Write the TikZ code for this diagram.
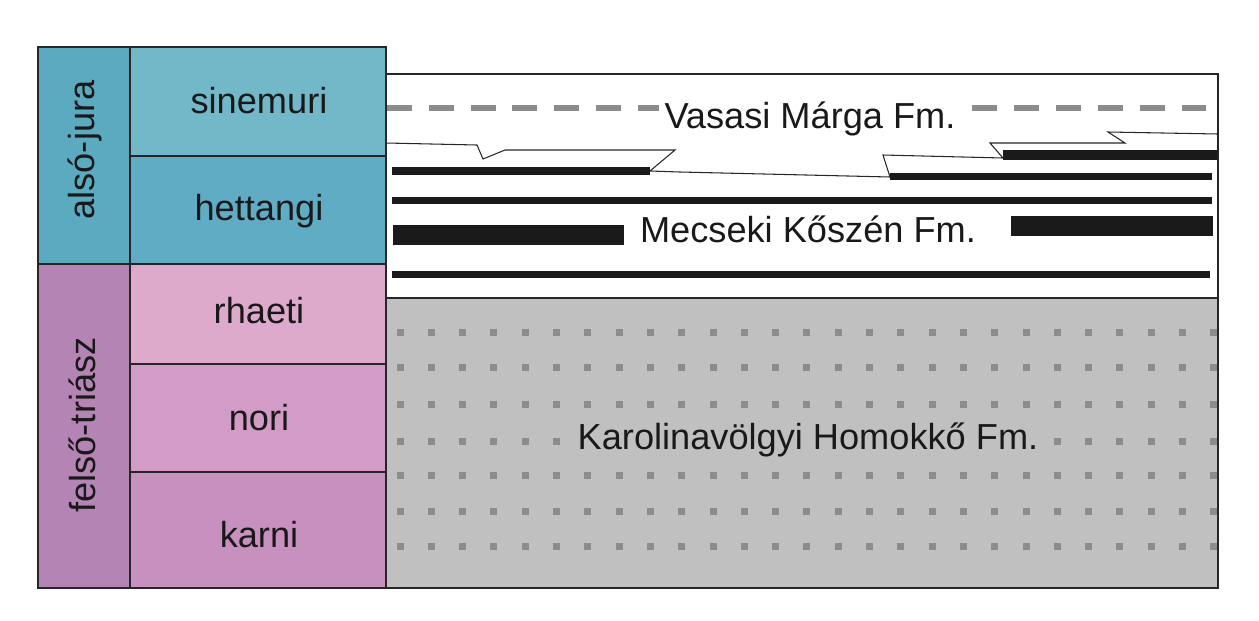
\documentclass[tikz,border=0pt]{standalone}
\usepackage{fontspec}
\setmainfont{Liberation Sans}
\usetikzlibrary{positioning}
\definecolor{jura}{RGB}{92,170,192}
\definecolor{sinemurc}{RGB}{114,184,200}
\definecolor{hettangc}{RGB}{96,172,196}
\definecolor{trias}{RGB}{180,132,180}
\definecolor{rhaetc}{RGB}{221,170,204}
\definecolor{noric}{RGB}{210,156,198}
\definecolor{karnic}{RGB}{200,144,190}
\definecolor{sandgray}{RGB}{192,192,192}
\definecolor{dotgray}{RGB}{140,140,140}
\definecolor{coalblack}{RGB}{26,26,26}
\tikzset{
  stagetext/.style={font=\fontsize{20.6}{24}\selectfont, text=black!90, inner sep=0pt, anchor=base},
  cellline/.style={draw=black!85, line width=0.8pt},
  coal/.style={fill=coalblack, draw=none},
  boundary/.style={draw=black!85, line width=0.6pt, line join=miter},
}

\begin{document}
\begin{tikzpicture}[x=0.02cm, y=-0.02cm]
  \useasboundingbox (0,0) rectangle (1259,620);
  % chronostratigraphic columns
  \filldraw[cellline, fill=jura] (38,47) rectangle (130,264);
  \filldraw[cellline, fill=trias] (38,264) rectangle (130,588);
  \filldraw[cellline, fill=sinemurc] (130,47) rectangle (386,156);
  \filldraw[cellline, fill=hettangc] (130,156) rectangle (386,264);
  \filldraw[cellline, fill=rhaetc] (130,264) rectangle (386,364);
  \filldraw[cellline, fill=noric] (130,364) rectangle (386,472);
  \filldraw[cellline, fill=karnic] (130,472) rectangle (386,588);
  \node[stagetext, rotate=90] (alsojura) at (94,150) {alsó-jura};
  \node[stagetext, rotate=90] (felsotrias) at (95,425) {felső-triász};
  \node[stagetext] (sinemuri) at (259,113) {sinemuri};
  \node[stagetext] (hettangi) at (259,220) {hettangi};
  \node[stagetext] (rhaeti) at (259,323) {rhaeti};
  \node[stagetext] (nori) at (259,430) {nori};
  \node[stagetext] (karni) at (259,547) {karni};
  % sandstone with dots
  \filldraw[cellline, fill=sandgray] (386,298) rectangle (1218,588);
  \foreach \r in {332,367,404,441,475,511,546}
    \foreach \k in {0,...,26}
      \fill[dotgray] ({400+31.3*\k-3.5},\r-3.5) rectangle ++(7,7);
  \node[stagetext, fill=sandgray, inner xsep=3.5pt, inner ysep=2pt] (karolina) at (808,449) {Karolinavölgyi Homokkő Fm.};
  % coal-bearing unit
  \draw[cellline] (386,298) -- (386,74) -- (1218,74) -- (1218,298);
  \draw[dotgray, line width=2.9pt, dash pattern=on 14.2pt off 9.6pt] (387,108) -- (1206,108);
  \node[stagetext, fill=white, inner xsep=3pt, inner ysep=2pt] (vasasi) at (810,128) {Vasasi Márga Fm.};
  \fill[coal] (392,167) rectangle (650,175);
  \fill[coal] (1003,150) rectangle (1217,160);
  \fill[coal] (890,173) rectangle (1212,180);
  \fill[coal] (392,197) rectangle (1212,204);
  \fill[coal] (393,225) rectangle (624,245);
  \fill[coal] (1011,216) rectangle (1213,236);
  \fill[coal] (392,271) rectangle (1210,278);
  \node[stagetext] (mecseki) at (808,242) {Mecseki Kőszén Fm.};
  % boundary of the marl
  \draw[boundary] (386,143) -- (477,145) -- (483,159) -- (505,150) -- (675,150)
    -- (650,171) -- (680,172) -- (890,177) -- (883,155) -- (1003,158)
    -- (990,143) -- (1125,143) -- (1108,132) -- (1218,134);
\end{tikzpicture}
\end{document}
